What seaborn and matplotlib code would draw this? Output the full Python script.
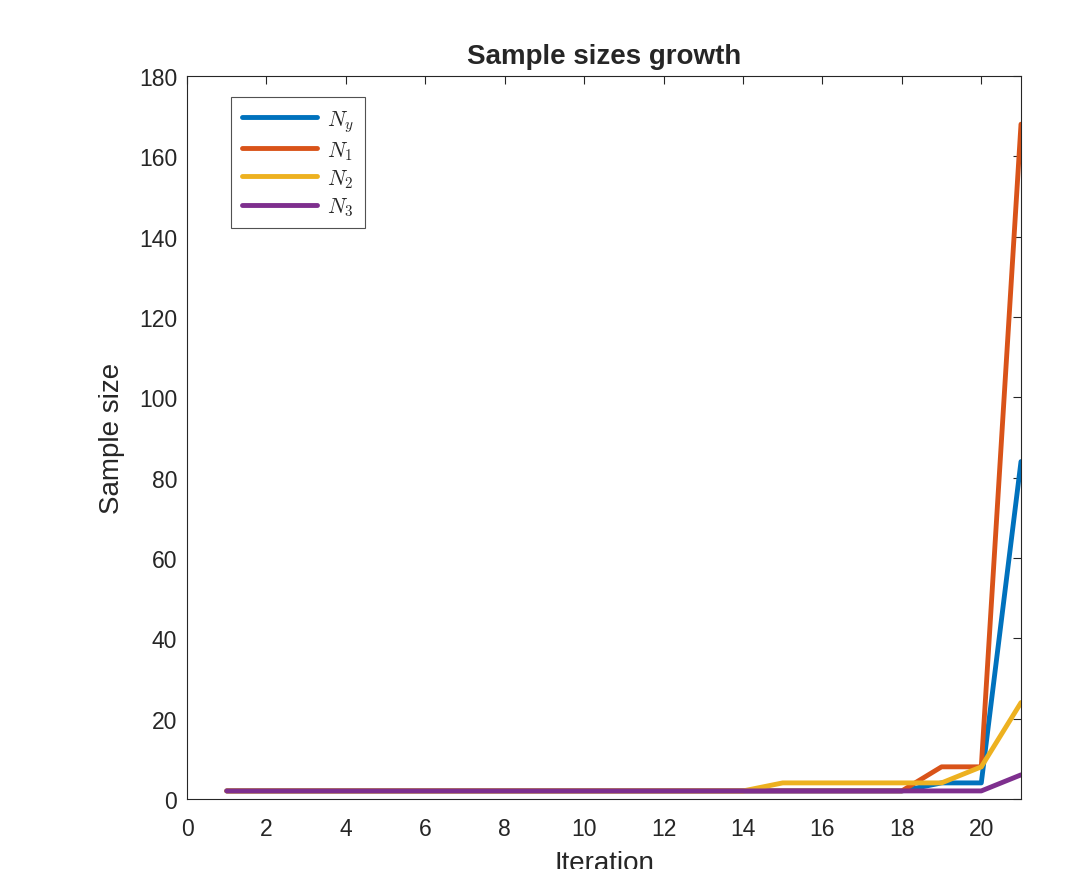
import matplotlib
matplotlib.use('Agg')
from matplotlib import pyplot as plt
import pandas as pd
import seaborn as sns

iterations = list(range(1, 22))
n_y = [2] * 18 + [4, 4, 84]
n_1 = [2] * 18 + [8, 8, 168]
n_2 = [2] * 14 + [4, 4, 4, 4, 4, 8, 24]
n_3 = [2] * 20 + [6]
labels = ['$N_y$', '$N_1$', '$N_2$', '$N_3$']
colors = ['#0072BD', '#D95319', '#EDB120', '#7E2F8E']

frames = []
for lab, vals in zip(labels, [n_y, n_1, n_2, n_3]):
    frames.append(pd.DataFrame({'Iteration': iterations, 'Sample size': vals, 'series': lab}))
df = pd.concat(frames)

sns.set_style('white')
plt.rcParams['font.family'] = ['Liberation Sans', 'DejaVu Sans']
plt.rcParams['mathtext.fontset'] = 'cm'

fig = plt.figure(figsize=(10.9, 8.7), dpi=100)
ax = fig.add_axes([0.1716, 0.0805, 0.7651, 0.831])
sns.lineplot(data=df, x='Iteration', y='Sample size', hue='series',
             palette=colors, linewidth=3.5, ax=ax)

ax.set_xlim(0, 21)
ax.set_ylim(0, 180)
ax.set_xticks(range(0, 21, 2))
ax.set_yticks(range(0, 181, 20))
ax.tick_params(direction='in', top=True, right=True, length=6, width=0.8,
               labelsize=16.5, colors='#262626', pad=7)
ax.tick_params(axis='x', pad=13)
for s in ax.spines.values():
    s.set_color('#262626')
    s.set_linewidth(0.8)
# the x label sits at the bottom edge, partly clipped, as in the original
ax.set_xlabel('Iteration', fontsize=20, color='#262626', labelpad=7)
ax.set_ylabel('Sample size', fontsize=20, color='#262626', labelpad=10)
ax.set_title('Sample sizes growth', fontsize=20, fontweight='bold', pad=9)

leg = ax.legend(loc='upper left', bbox_to_anchor=(0.053, 0.971), borderaxespad=0,
                fontsize=15.5, frameon=True, fancybox=False, edgecolor='#262626',
                handlelength=3.5, handletextpad=0.45, labelspacing=0.25, borderpad=0.5)
leg.get_frame().set_linewidth(0.8)

fig.savefig('out.png', dpi=100)
